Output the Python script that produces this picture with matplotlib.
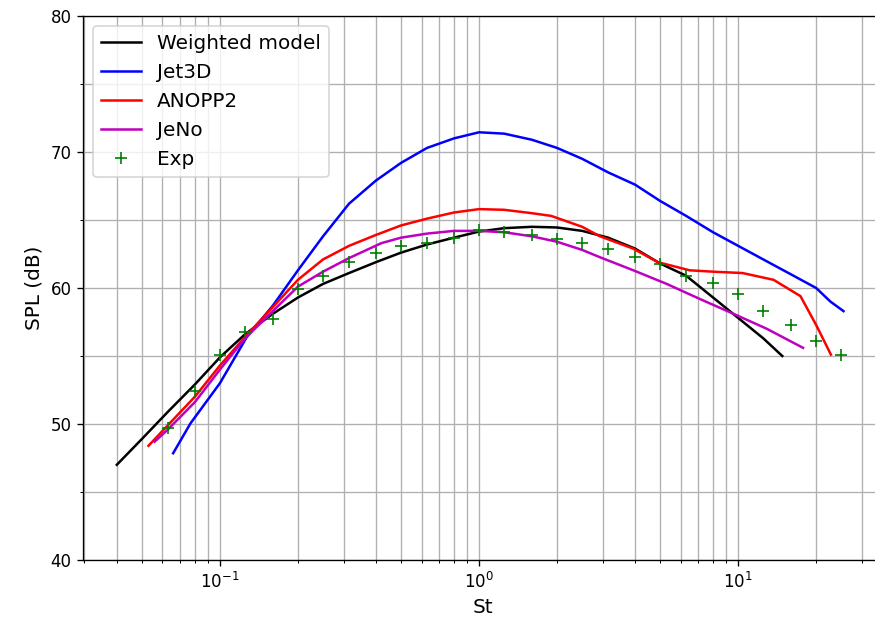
import matplotlib
matplotlib.use("Agg")
import matplotlib.pyplot as plt
from matplotlib.ticker import MultipleLocator

# Weighted model
st_model = [0.04, 0.05, 0.063, 0.08, 0.1, 0.125, 0.16, 0.2, 0.25, 0.315, 0.4, 0.5,
            0.63, 0.8, 1.0, 1.25, 1.6, 2.0, 2.5, 3.15, 4.0, 5.0, 6.3, 8.0, 10.0, 12.5, 14.8]
spl_model = [47.0, 48.9, 50.9, 52.9, 54.9, 56.6, 58.1, 59.3, 60.3, 61.1, 61.9, 62.6,
             63.2, 63.7, 64.15, 64.4, 64.5, 64.45, 64.2, 63.7, 62.9, 61.8, 60.9, 59.3, 57.8, 56.3, 55.0]

# Jet3D
st_jet3d = [0.066, 0.077, 0.1, 0.127, 0.16, 0.2, 0.25, 0.315, 0.4, 0.5, 0.63, 0.8,
            1.0, 1.25, 1.6, 2.0, 2.5, 3.15, 4.0, 5.0, 6.3, 8.0, 10.0, 12.5, 16.0, 20.0, 22.7, 25.5]
spl_jet3d = [47.85, 50.05, 53.0, 56.4, 58.7, 61.3, 63.8, 66.2, 67.9, 69.2, 70.3, 71.0,
             71.45, 71.35, 70.9, 70.3, 69.5, 68.5, 67.6, 66.4, 65.3, 64.1, 63.1, 62.1, 61.0, 60.0, 59.0, 58.3]

# ANOPP2
st_anopp2 = [0.053, 0.064, 0.08, 0.1, 0.125, 0.16, 0.2, 0.25, 0.315, 0.4, 0.5, 0.63,
             0.8, 1.0, 1.25, 1.6, 1.9, 2.5, 2.93, 3.93, 4.9, 6.5, 8.0, 10.4, 13.7, 17.4, 20.1, 22.8]
spl_anopp2 = [48.4, 50.05, 52.0, 54.3, 56.4, 58.6, 60.6, 62.1, 63.1, 63.9, 64.6, 65.1,
              65.55, 65.8, 65.75, 65.5, 65.3, 64.5, 63.8, 62.9, 61.9, 61.3, 61.2, 61.1, 60.6, 59.4, 57.2, 55.1]

# JeNo
st_jeno = [0.056, 0.063, 0.08, 0.1, 0.125, 0.16, 0.2, 0.25, 0.315, 0.42, 0.5, 0.63,
           0.8, 1.0, 1.25, 1.6, 2.0, 2.5, 2.93, 3.94, 5.3, 7.1, 9.6, 12.9, 17.8]
spl_jeno = [48.7, 49.6, 51.6, 54.0, 56.3, 58.3, 60.1, 61.2, 62.2, 63.3, 63.7, 64.0,
            64.2, 64.2, 64.1, 63.8, 63.4, 62.8, 62.26, 61.3, 60.3, 59.2, 58.1, 57.0, 55.6]

# Experimental data (1/3-octave bands)
st_exp = [0.063, 0.08, 0.1, 0.125, 0.16, 0.2, 0.25, 0.315, 0.4, 0.5, 0.63, 0.8, 1.0,
          1.25, 1.6, 2.0, 2.5, 3.15, 4.0, 5.0, 6.3, 8.0, 10.0, 12.5, 16.0, 20.0, 25.0]
spl_exp = [49.7, 52.45, 55.1, 56.75, 57.7, 59.9, 60.9, 61.9, 62.6, 63.1, 63.3, 63.7, 64.3,
           64.15, 63.9, 63.6, 63.3, 62.85, 62.26, 61.76, 60.9, 60.35, 59.56, 58.3, 57.3, 56.1, 55.07]

fig = plt.figure(figsize=(875 / 120, 631 / 120), dpi=120)
ax = fig.add_axes([83.3 / 875, 71 / 631, 798.7 / 875, 544 / 631])

ax.plot(st_model, spl_model, color="k", label="Weighted model")
ax.plot(st_jet3d, spl_jet3d, color="b", label="Jet3D")
ax.plot(st_anopp2, spl_anopp2, color="r", label="ANOPP2")
ax.plot(st_jeno, spl_jeno, color="m", label="JeNo")
ax.plot(st_exp, spl_exp, "g+", markersize=7, label="Exp")

ax.set_xscale("log")
ax.set_xlim(0.0297, 35.9)
ax.set_ylim(40, 80)
ax.yaxis.set_major_locator(MultipleLocator(10))
ax.yaxis.set_minor_locator(MultipleLocator(5))
ax.grid(True, which="both")
ax.set_axisbelow(True)

ax.tick_params(labelsize=10)
ax.set_xlabel("St", fontsize=12)
ax.set_ylabel("SPL (dB)", fontsize=12)
ax.legend(loc="upper left", fontsize=12)

fig.savefig("out.png", dpi=120)
